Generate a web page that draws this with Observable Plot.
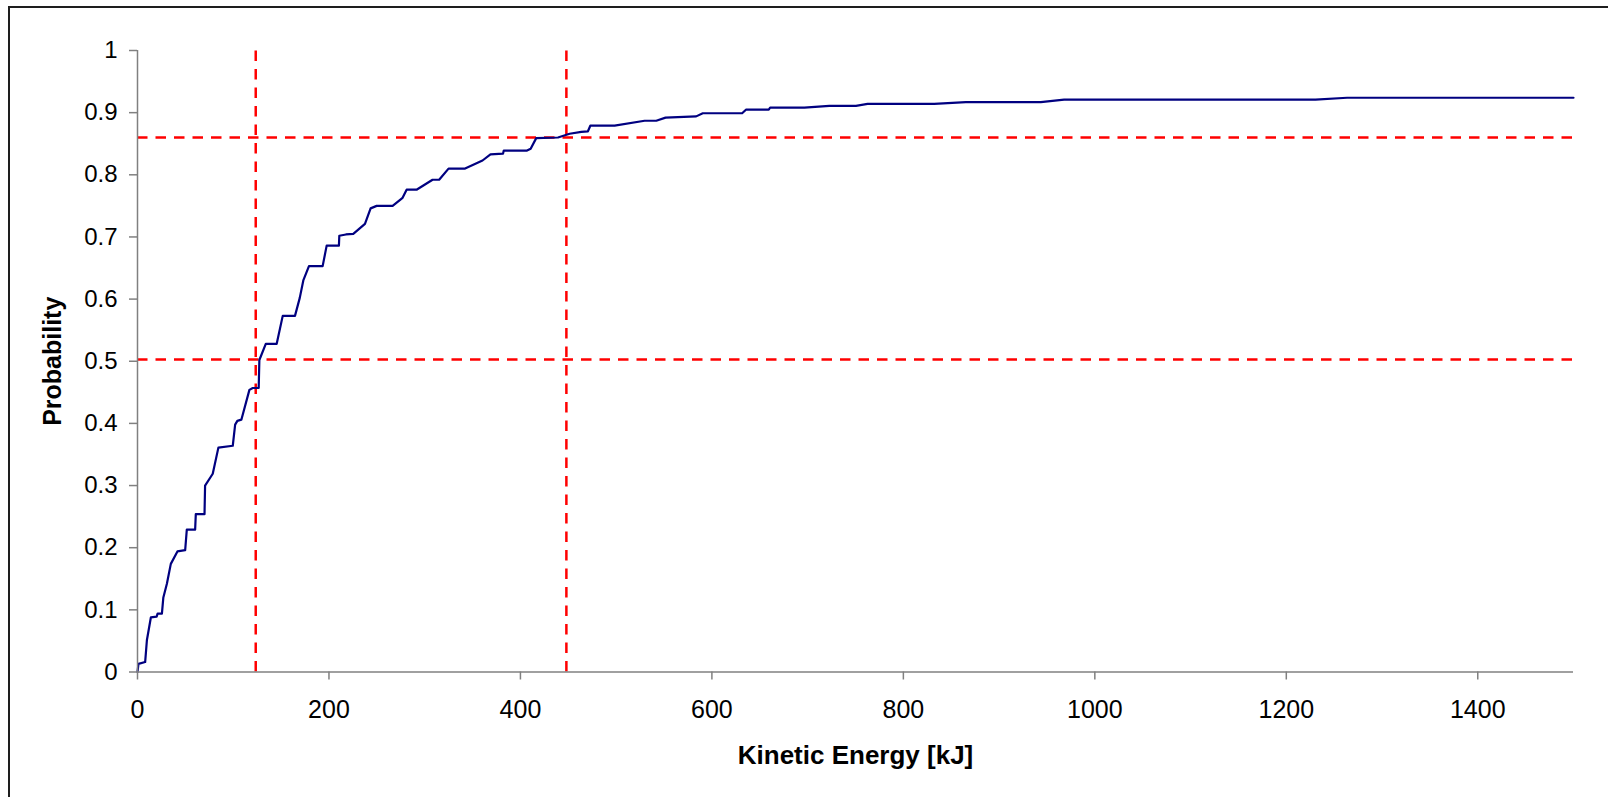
<!DOCTYPE html>
<html>
<head>
<meta charset="utf-8">
<script src="https://cdn.jsdelivr.net/npm/d3@7"></script>
<script src="https://cdn.jsdelivr.net/npm/@observablehq/plot@0.6"></script>
<style>
  html, body { margin: 0; padding: 0; background: #fff; overflow: hidden; }
  #wrap { position: relative; width: 1608px; height: 797px; }
  #border { position: absolute; left: 8px; top: 6px; width: 1700px; height: 900px;
            border-top: 2px solid #1e1e1e; border-left: 2px solid #1e1e1e; pointer-events: none; }
  #chart { position: absolute; left: 0; top: 0; }
</style>
</head>
<body>
<div id="wrap"><div id="chart"></div><div id="border"></div></div>
<script>
const energy = [0, 1, 8, 9.8, 14, 20, 21, 25.5, 27, 30.7, 34.8, 41.7, 49.8, 51.5, 60.2, 60.9, 70, 70.6, 78.6, 84.5,
  99.5, 102, 104.3, 108.5, 116.9, 120.4, 126.6, 127.3, 134, 145.4, 151.7, 164.5, 169.5, 173.2, 179.1, 193.4,
  197.6, 210.4, 210.8, 217.7, 225.4, 237.6, 243.5, 249.8, 266.5, 276.9, 281.1, 291.5, 308.2, 315.1, 324.9,
  342.2, 360.4, 368.7, 381.8, 382.6, 406.9, 410.7, 416.5, 439.2, 451.4, 463.6, 470.5, 473, 498.4, 529.7,
  541.9, 551.6, 583.6, 590.5, 631.6, 635.8, 659.4, 660.8, 696.6, 722.7, 750.5, 762.6, 832.2, 865.3, 943.6,
  967.9, 1230.5, 1263.5, 1500];
const probability = [0, 0.013, 0.016, 0.051, 0.088, 0.089, 0.094, 0.094, 0.120, 0.142, 0.174, 0.194, 0.196, 0.229,
  0.229, 0.254, 0.254, 0.300, 0.319, 0.361, 0.364, 0.398, 0.404, 0.406, 0.454, 0.457, 0.457, 0.502, 0.528,
  0.528, 0.573, 0.573, 0.602, 0.630, 0.653, 0.653, 0.686, 0.686, 0.702, 0.704, 0.705, 0.721, 0.746, 0.750,
  0.750, 0.763, 0.776, 0.776, 0.792, 0.792, 0.810, 0.810, 0.823, 0.833, 0.834, 0.839, 0.839, 0.842, 0.859,
  0.860, 0.866, 0.869, 0.870, 0.879, 0.879, 0.887, 0.887, 0.892, 0.894, 0.899, 0.899, 0.905, 0.905, 0.908,
  0.908, 0.911, 0.911, 0.914, 0.914, 0.917, 0.917, 0.921, 0.921, 0.924, 0.924];
const markerEnergies = [123.5, 448];
const markerProbabilities = [0.503, 0.86];
const xTicks = [0, 200, 400, 600, 800, 1000, 1200, 1400];
const yTicks = [0, 0.1, 0.2, 0.3, 0.4, 0.5, 0.6, 0.7, 0.8, 0.9, 1];
const xTitle = "Kinetic Energy [kJ]";
const yTitle = "Probability";

const points = energy.map((e, i) => ({energy: e, probability: probability[i]}));

const chart = Plot.plot({
  width: 1608,
  height: 797,
  marginLeft: 137,
  marginRight: 35,
  marginTop: 50,
  marginBottom: 125.5,
  x: {domain: [0, 1500]},
  y: {domain: [0, 1]},
  style: {fontFamily: "'Liberation Sans', Arial, sans-serif", fontSize: "24px", color: "#000", background: "transparent", overflow: "visible"},
  marks: [
    Plot.ruleX(markerEnergies, {x: d => d, y1: 0, y2: 1, stroke: "#ff0000", strokeWidth: 2.5, strokeDasharray: "10.5,8"}),
    Plot.ruleY(markerProbabilities, {y: d => d, x1: 0, x2: 1500, stroke: "#ff0000", strokeWidth: 2.5, strokeDasharray: "10.5,8"}),
    Plot.line(points, {x: "energy", y: "probability", stroke: "#000080", strokeWidth: 2.2}),
    Plot.axisX({ticks: xTicks, tickSize: 8, tickPadding: 20, label: null, stroke: "#808080", strokeWidth: 1.5, fontSize: 25, tickFormat: d => String(d)}),
    Plot.axisY({ticks: yTicks, tickSize: 8, tickPadding: 12, label: null, stroke: "#808080", strokeWidth: 1.5, tickFormat: d3.format("~g")}),
    Plot.ruleY([0], {x1: 0, x2: 1500, stroke: "#808080", strokeWidth: 1.5}),
    Plot.ruleX([0], {y1: 0, y2: 1, stroke: "#808080", strokeWidth: 1.5}),
    Plot.text([xTitle], {frameAnchor: "bottom", dy: 91.5, lineAnchor: "bottom", textAnchor: "middle", fontWeight: "bold", fontSize: 26}),
    Plot.text([yTitle], {frameAnchor: "left", dx: -94, rotate: -90, lineAnchor: "top", textAnchor: "middle", fontWeight: "bold", fontSize: 25})
  ]
});
document.getElementById("chart").appendChild(chart);
</script>
</body>
</html>
